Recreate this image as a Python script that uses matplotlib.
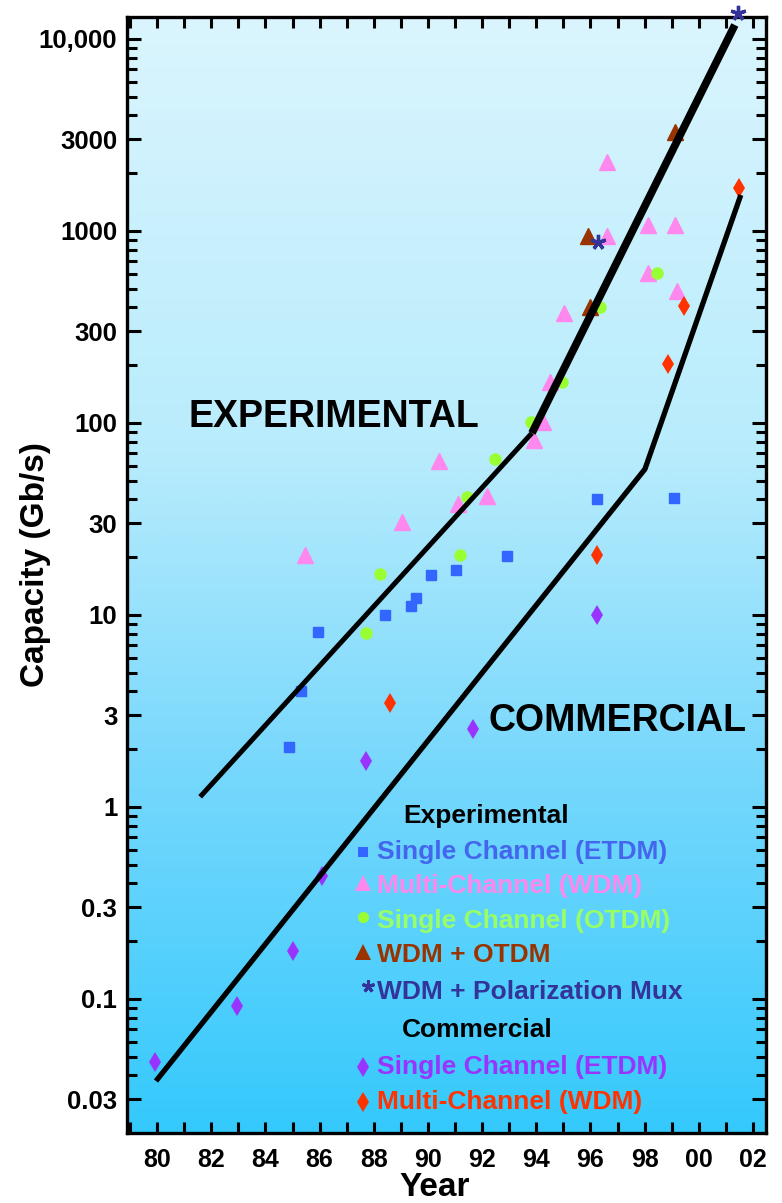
import numpy as np
import matplotlib
matplotlib.use("Agg")
import matplotlib.pyplot as plt
from matplotlib.ticker import FixedLocator, NullFormatter, LogLocator

plt.rcParams['font.family'] = ['Liberation Sans', 'DejaVu Sans']
plt.rcParams['font.weight'] = 'bold'

# ---------------- data ----------------
etdm_years = [84.87, 85.31, 85.94, 88.41, 89.37, 89.56, 90.11, 91.03, 92.92, 96.24, 99.08]
etdm_caps = [2.05, 4.02, 8.15, 10.0, 11.1, 12.3, 16.1, 17.1, 20.3, 40.2, 40.7]

wdm_years = [85.46, 89.04, 90.41, 91.11, 92.18, 93.91, 94.24, 94.50, 95.02, 96.61, 96.61, 98.12, 98.12, 99.11, 99.19]
wdm_caps = [20.5, 30.5, 63.4, 37.8, 41.7, 81.5, 101, 164, 374, 2290, 942, 1075, 604, 1075, 487]

otdm_years = [87.71, 88.23, 91.18, 91.44, 92.47, 93.80, 94.94, 96.35, 98.45]
otdm_caps = [8.06, 16.4, 20.5, 41.2, 64.9, 101, 164, 402, 604]

wdm_otdm_years = [95.90, 95.98, 99.11]
wdm_otdm_caps = [942, 402, 3280]

polmux_years = [96.27, 101.44]
polmux_caps = [877, 13650]

com_etdm_years = [79.93, 82.95, 85.02, 86.09, 87.71, 91.66, 96.24]
com_etdm_caps = [0.047, 0.092, 0.178, 0.438, 1.74, 2.55, 10.0]

com_wdm_years = [88.60, 96.24, 98.86, 99.45, 101.48]
com_wdm_caps = [3.48, 20.5, 203, 406, 1675]

exp_line_years = [81.59, 93.84, 101.33]
exp_line_caps = [1.13, 88.7, 11830]

com_line_years = [79.96, 98.01, 101.55]
com_line_caps = [0.0374, 57.5, 1540]

x_tick_years = list(range(80, 103, 2))
x_tick_labels = ['80', '82', '84', '86', '88', '90', '92', '94', '96', '98', '00', '02']
y_tick_values = [0.03, 0.1, 0.3, 1, 3, 10, 30, 100, 300, 1000, 3000, 10000]
y_tick_labels = ['0.03', '0.1', '0.3', '1', '3', '10', '30', '100', '300', '1000', '3000', '10,000']

legend_exp = ['Single Channel (ETDM)', 'Multi-Channel (WDM)', 'Single Channel (OTDM)',
              'WDM + OTDM', 'WDM + Polarization Mux']
legend_com = ['Single Channel (ETDM)', 'Multi-Channel (WDM)']

# ---------------- style ----------------
C_ETDM = '#3366ff'
C_WDM = '#ff88ee'
C_OTDM = '#99ff33'
C_WO = '#993300'
C_POL = '#333399'
C_CETDM = '#9933ff'
C_CWDM = '#ff3300'

W, H = 782, 1203
fig = plt.figure(figsize=(W / 100, H / 100), dpi=100)
L, R, T, B = 127, 766, 17, 1133
ax = fig.add_axes([L / W, 1 - B / H, (R - L) / W, (B - T) / H])

def fx(px):
    return px / W

def fy(py):
    return 1 - py / H

# background gradient
stops_t = [0.0, 0.39, 0.67, 1.0]
stops_c = np.array([[218, 245, 254], [184, 236, 252], [120, 216, 252], [52, 201, 253]]) / 255.0
tt = np.linspace(0, 1, 400)
grad = np.stack([np.interp(tt, stops_t, stops_c[:, k]) for k in range(3)], axis=1)
grad = grad[:, None, :]
ax.imshow(grad, extent=[0, 1, 0, 1], transform=ax.transAxes, aspect='auto', zorder=0,
          interpolation='bilinear')

ax.set_yscale('log')
ax.set_xlim(78.89, 102.48)
ax.set_ylim(10 ** (3 - 902 / 192), 10 ** (3 + 214 / 192))

# markers
ms_kw = dict(linestyle='none', zorder=3, clip_on=False)
ax.plot(etdm_years, etdm_caps, marker='s', ms=7.2, color=C_ETDM, **ms_kw)
ax.plot(wdm_years, wdm_caps, marker='^', ms=11, color=C_WDM, **ms_kw)
ax.plot(otdm_years, otdm_caps, marker='o', ms=8, color=C_OTDM, **ms_kw)
ax.plot(wdm_otdm_years, wdm_otdm_caps, marker='^', ms=11, color=C_WO, **ms_kw)
ax.plot(polmux_years, polmux_caps, marker=(5, 2, 0), ms=11, mew=2.4, color=C_POL,
        linestyle='none', zorder=5, clip_on=False)
ax.plot(com_etdm_years, com_etdm_caps, marker='d', ms=10.5, mew=0, color=C_CETDM,
        markerfacecolor=C_CETDM, **ms_kw)
ax.plot(com_wdm_years, com_wdm_caps, marker='d', ms=10.5, mew=0, color=C_CWDM,
        markerfacecolor=C_CWDM, **ms_kw)

# trend lines
ax.plot(exp_line_years[:2], exp_line_caps[:2], color='black', lw=3.6, zorder=4,
        solid_capstyle='butt')
ax.plot(exp_line_years[1:], exp_line_caps[1:], color='black', lw=5.6, zorder=4,
        solid_capstyle='butt')
ax.plot(com_line_years, com_line_caps, color='black', lw=3.8, zorder=4,
        solid_capstyle='butt', solid_joinstyle='miter')

# ticks
ax.xaxis.set_major_locator(FixedLocator(x_tick_years))
ax.xaxis.set_minor_locator(FixedLocator(list(range(79, 103, 2))))
ax.set_xticklabels(x_tick_labels)
ax.yaxis.set_major_locator(FixedLocator(y_tick_values))
ax.set_yticklabels(y_tick_labels)
ax.yaxis.set_minor_locator(LogLocator(base=10, subs=np.arange(2, 10)))
ax.yaxis.set_minor_formatter(NullFormatter())

ax.tick_params(axis='both', which='both', direction='in', top=True, right=True, width=2.2)
ax.tick_params(axis='y', which='major', length=10, labelsize=18.5, pad=7)
ax.tick_params(axis='y', which='minor', length=7)
ax.tick_params(axis='x', which='major', length=8, labelsize=18, pad=11)
ax.tick_params(axis='x', which='minor', length=8)
for lab in ax.get_xticklabels() + ax.get_yticklabels():
    lab.set_fontweight('bold')
for sp in ax.spines.values():
    sp.set_linewidth(2.4)

# axis labels
fig.text(fx(36), fy(565), 'Capacity (Gb/s)', rotation=90, ha='center', va='center',
         fontsize=24, fontweight='bold')
fig.text(fx(435), fy(1187), 'Year', ha='center', va='center', fontsize=24, fontweight='bold')

# big annotations
fig.text(fx(334), fy(417), 'EXPERIMENTAL', ha='center', va='center', fontsize=27,
         fontweight='bold', color='black')
fig.text(fx(617), fy(721), 'COMMERCIAL', ha='center', va='center', fontsize=27,
         fontweight='bold', color='black')

# legend (manual)
LFS = 19
fig.text(fx(403), fy(816), 'Experimental', ha='left', va='center', fontsize=LFS,
         fontweight='bold', color='black')
fig.text(fx(402), fy(1030), 'Commercial', ha='left', va='center', fontsize=LFS,
         fontweight='bold', color='black')

leg_rows_exp = [852, 886, 921, 955, 992]
leg_colors_exp = [C_ETDM, C_WDM, C_OTDM, C_WO, C_POL]
leg_text_colors_exp = ['#4466ee', C_WDM, '#99ff66', C_WO, C_POL]
leg_markers_exp = [('s', 7.2, 0), ('^', 11, 0), ('o', 8, 0), ('^', 11, 0), ((5, 2, 0), 9, 2.2)]
leg_marker_y_off = [0, -3, -4, -3, -6]
for lab, yy, c, tc, (mk, ms, mew), off in zip(legend_exp, leg_rows_exp, leg_colors_exp,
                                              leg_text_colors_exp, leg_markers_exp,
                                              leg_marker_y_off):
    fig.text(fx(377), fy(yy), lab, ha='left', va='center', fontsize=LFS,
             fontweight='bold', color=tc)
    fig.lines.append(matplotlib.lines.Line2D([fx(363 if mk != (5, 2, 0) else 368)],
                                             [fy(yy + off)], transform=fig.transFigure,
                                             marker=mk, ms=ms, mew=mew, color=c,
                                             linestyle='none'))

leg_rows_com = [1067, 1102]
for lab, yy, c in zip(legend_com, leg_rows_com, [C_CETDM, C_CWDM]):
    fig.text(fx(377), fy(yy), lab, ha='left', va='center', fontsize=LFS,
             fontweight='bold', color=c)
    fig.lines.append(matplotlib.lines.Line2D([fx(363)], [fy(yy)], transform=fig.transFigure,
                                             marker='d', ms=10.5, mew=0, color=c,
                                             linestyle='none'))

fig.savefig('out.png', dpi=100)
